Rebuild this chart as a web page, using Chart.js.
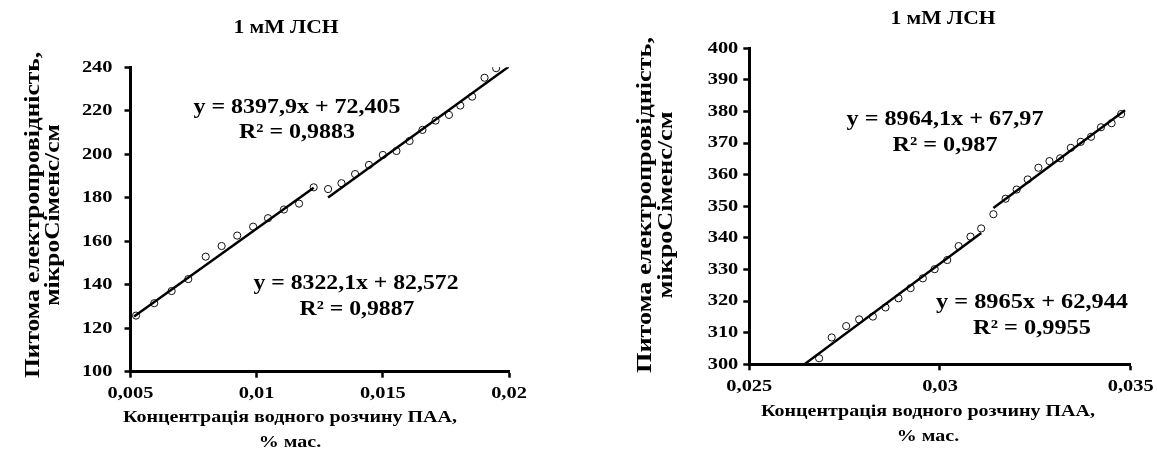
<!DOCTYPE html>
<html><head><meta charset="utf-8">
<script src="https://cdn.jsdelivr.net/npm/chart.js@4"></script>
<style>
html,body{margin:0;padding:0;background:#fff;width:1157px;height:456px;overflow:hidden;}
.box{position:absolute;top:0;height:456px;}
</style></head><body>
<div class="box" style="left:0;width:560px"><canvas id="c1"></canvas></div>
<div class="box" style="left:560px;width:597px"><canvas id="c2"></canvas></div>
<script>
// ---------- texts ----------
const chartTitle = '1 мМ ЛСН';
const yTitle = ['Питома електропровідність,', 'мікроСіменс/см'];
const xTitle = ['Концентрація водного розчину ПАА,', '% мас.'];

// ---------- left chart data ----------
const leftX1 = [0.00522, 0.00594, 0.00663, 0.00729, 0.00798, 0.00861, 0.00923, 0.00986, 0.01045, 0.01108, 0.01168, 0.01226];
const leftY1 = [125.8, 131.5, 137.1, 142.6, 152.9, 157.8, 162.6, 166.7, 170.6, 174.6, 177.3, 184.8];
const leftX2 = [0.01283, 0.01336, 0.01390, 0.01445, 0.01500, 0.01554, 0.01606, 0.01657, 0.01709, 0.01762, 0.01807, 0.01854, 0.01903, 0.01949];
const leftY2 = [184.0, 186.7, 190.9, 195.1, 199.7, 201.5, 206.1, 211.2, 215.5, 218.1, 222.4, 226.5, 235.2, 239.6];
const leftSlopes = [8322.1, 8397.9];
const leftIntercepts = [82.572, 72.405];
const leftR2 = [0.9887, 0.9883];
const leftForecastBack = [0.00008, 0];
const leftForecastFwd = [0, 0.0005];
const leftXTicks = [0.005, 0.01, 0.015, 0.02];
const leftXTickLabels = ['0,005', '0,01', '0,015', '0,02'];
const leftYTicks = [100, 120, 140, 160, 180, 200, 220, 240];
const leftYTickLabels = ['100', '120', '140', '160', '180', '200', '220', '240'];

// ---------- right chart data ----------
const rightX1 = [0.02683, 0.02716, 0.02754, 0.02788, 0.02824, 0.02857, 0.02891, 0.02923, 0.02955, 0.02986, 0.03019, 0.03049, 0.03080, 0.03108];
const rightY1 = [301.9, 308.5, 312.1, 314.2, 315.1, 318.0, 320.9, 324.1, 327.2, 330.1, 333.0, 337.4, 340.4, 343.0];
const rightX2 = [0.03140, 0.03172, 0.03201, 0.03230, 0.03258, 0.03287, 0.03315, 0.03343, 0.03369, 0.03396, 0.03422, 0.03450, 0.03475];
const rightY2 = [347.5, 352.4, 355.3, 358.5, 362.2, 364.3, 365.2, 368.5, 370.4, 372.0, 375.0, 376.3, 379.2];
const rightSlopes = [8965, 8964.1];
const rightIntercepts = [62.944, 67.97];
const rightR2 = [0.9955, 0.987];
const rightForecastBack = [0.0004, 0];
const rightForecastFwd = [0, 0.0001];
const rightXTicks = [0.025, 0.03, 0.035];
const rightXTickLabels = ['0,025', '0,03', '0,035'];
const rightYTicks = [300, 310, 320, 330, 340, 350, 360, 370, 380, 390, 400];
const rightYTickLabels = ['300', '310', '320', '330', '340', '350', '360', '370', '380', '390', '400'];

// ---------- helpers ----------
const FONT = '"Liberation Serif", "Times New Roman", serif';
const fmt = v => String(v).replace('.', ',');
const eqText = (m, b) => 'y = ' + fmt(m) + 'x + ' + fmt(b);
const r2Text = r => 'R² = ' + fmt(r);

function points(xs, ys) { return xs.map((x, i) => ({x, y: ys[i]})); }
function trend(xs, m, b, back, fwd) {
  const x0 = Math.min(...xs) - back, x1 = Math.max(...xs) + fwd;
  return [{x: x0, y: m * x0 + b}, {x: x1, y: m * x1 + b}];
}

// horizontal stretch of canvas text (the reference uses wide bold serif glyphs)
function patchStretch(ctx) {
  if (ctx.__orig) return;
  const orig = ctx.fillText;
  ctx.__orig = orig;
  ctx.__sx = 1;
  ctx.fillText = function (t, x, y, mw) {
    const m = this.getTransform();
    if (this.__sx === 1 || Math.abs(m.b) > 1e-6) return orig.call(this, t, x, y);
    this.save();
    this.translate(x, y);
    this.scale(this.__sx, 1);
    orig.call(this, t, 0, 0);
    this.restore();
  };
}

const stretchPlugin = {
  id: 'stretch',
  beforeDraw(chart) { patchStretch(chart.ctx); chart.ctx.__sx = chart.options.plugins.stretch.sx; },
  afterDraw(chart) { chart.ctx.__sx = 1; }
};

// text labels (titles, axis titles, trendline equations)
const labelPlugin = {
  id: 'labels',
  afterDraw(chart, args, opts) {
    const ctx = chart.ctx;
    const orig = ctx.__orig || ctx.fillText;
    let lastSx = 1;
    for (const L of opts.items) {
      ctx.save();
      ctx.font = 'bold ' + L.size + 'px ' + FONT;
      ctx.fillStyle = '#000';
      ctx.textAlign = 'center';
      ctx.textBaseline = 'middle';
      ctx.translate(L.x, L.y);
      if (L.rot) ctx.rotate(L.rot);
      let sx = L.sx || 1;
      if (L.w) sx = L.w / ctx.measureText(L.text).width;
      if (L.same) sx = lastSx;
      lastSx = sx;
      ctx.scale(sx, 1);
      orig.call(ctx, L.text, 0, 0);
      ctx.restore();
    }
  }
};

function fixFit(w, h) {
  return function (s) {
    if (w !== undefined) s.width = w;
    if (h !== undefined) s.height = h;
    s.paddingTop = 0; s.paddingBottom = 0; s.paddingLeft = 0; s.paddingRight = 0;
  };
}

function makeChart(id, cfg) {
  const tickFont = {family: FONT, size: 17, weight: 'bold'};
  const ds = [];
  cfg.series.forEach((s, i) => {
    ds.push({
      type: 'scatter', data: trend(s.x, cfg.slopes[i], cfg.intercepts[i], cfg.back[i], cfg.fwd[i]),
      showLine: true, pointRadius: 0, borderColor: '#000', borderWidth: 2.5, fill: false, order: 1
    });
    ds.push({
      type: 'scatter', data: points(s.x, s.y),
      pointRadius: 3.6, pointBorderWidth: 1, pointBorderColor: '#111', pointBackgroundColor: 'rgba(255,255,255,0)',
      borderColor: '#111', backgroundColor: 'rgba(255,255,255,0)', order: 2
    });
  });
  return new Chart(document.getElementById(id), {
    type: 'scatter',
    data: {datasets: ds},
    options: {
      responsive: true, maintainAspectRatio: false, animation: false,
      layout: {padding: cfg.padding},
      plugins: {legend: {display: false}, tooltip: {enabled: false}, title: {display: false},
        stretch: {sx: 1.2}, labels: {items: cfg.labels}},
      scales: {
        x: {
          type: 'linear', min: cfg.xTicks[0], max: cfg.xTicks[cfg.xTicks.length - 1],
          afterBuildTicks: s => { s.ticks = cfg.xTicks.map(v => ({value: v})); },
          afterFit: fixFit(undefined, cfg.xH),
          ticks: {autoSkip: false, maxRotation: 0, font: tickFont, color: '#000', padding: 6,
            callback: (v, i) => cfg.xLabels[i]},
          grid: {drawOnChartArea: false, drawTicks: true, tickLength: 6, tickWidth: 2.5, tickColor: '#000'},
          border: {display: true, width: 3, color: '#000'}
        },
        y: {
          type: 'linear', min: cfg.yTicks[0], max: cfg.yTicks[cfg.yTicks.length - 1],
          afterBuildTicks: s => { s.ticks = cfg.yTicks.map(v => ({value: v})); },
          afterFit: fixFit(cfg.yW, undefined),
          ticks: {autoSkip: false, font: tickFont, color: '#000', padding: cfg.yPad,
            callback: (v, i) => cfg.yLabels[i]},
          grid: {drawOnChartArea: false, drawTicks: true, tickLength: 6, tickWidth: 2.5, tickColor: '#000'},
          border: {display: true, width: 3, color: '#000'}
        }
      }
    },
    plugins: [stretchPlugin, labelPlugin]
  });
}

// left chart (canvas at page x 0)
makeChart('c1', {
  series: [{x: leftX1, y: leftY1}, {x: leftX2, y: leftY2}],
  slopes: leftSlopes, intercepts: leftIntercepts, back: leftForecastBack, fwd: leftForecastFwd,
  xTicks: leftXTicks, xLabels: leftXTickLabels, yTicks: leftYTicks, yLabels: leftYTickLabels,
  padding: {left: 0, top: 67.3, right: 51, bottom: 0}, yW: 130.5, xH: 84.3, yPad: 12,
  labels: [
    {text: chartTitle, x: 286, y: 28, size: 18, sx: 1.2},
    {text: yTitle[0], x: 34, y: 215, size: 20, rot: -Math.PI / 2, w: 326},
    {text: yTitle[1], x: 54, y: 215, size: 20, rot: -Math.PI / 2, same: true},
    {text: xTitle[0], x: 290, y: 418, size: 16, sx: 1.25},
    {text: xTitle[1], x: 290, y: 443, size: 16, sx: 1.25},
    {text: eqText(leftSlopes[1], leftIntercepts[1]), x: 297, y: 108, size: 21, w: 207},
    {text: r2Text(leftR2[1]), x: 297, y: 133, size: 21, same: true},
    {text: eqText(leftSlopes[0], leftIntercepts[0]), x: 356, y: 284, size: 21, w: 205},
    {text: r2Text(leftR2[0]), x: 357, y: 310, size: 21, same: true}
  ]
});

// right chart (canvas at page x 560)
makeChart('c2', {
  series: [{x: rightX1, y: rightY1}, {x: rightX2, y: rightY2}],
  slopes: rightSlopes, intercepts: rightIntercepts, back: rightForecastBack, fwd: rightForecastFwd,
  xTicks: rightXTicks, xLabels: rightXTickLabels, yTicks: rightYTicks, yLabels: rightYTickLabels,
  padding: {left: 0, top: 48.3, right: 26.3, bottom: 0}, yW: 189.3, xH: 91.7, yPad: 5,
  labels: [
    {text: chartTitle, x: 943 - 560, y: 19, size: 18, sx: 1.2},
    {text: yTitle[0], x: 646 - 560, y: 205, size: 20, rot: -Math.PI / 2, w: 336},
    {text: yTitle[1], x: 667 - 560, y: 205, size: 20, rot: -Math.PI / 2, same: true},
    {text: xTitle[0], x: 928 - 560, y: 412, size: 16, sx: 1.25},
    {text: xTitle[1], x: 928 - 560, y: 437, size: 16, sx: 1.25},
    {text: eqText(rightSlopes[1], rightIntercepts[1]), x: 945 - 560, y: 120, size: 21, w: 197},
    {text: r2Text(rightR2[1]), x: 945 - 560, y: 146, size: 21, same: true},
    {text: eqText(rightSlopes[0], rightIntercepts[0]), x: 1032 - 560, y: 303, size: 21, w: 192},
    {text: r2Text(rightR2[0]), x: 1032 - 560, y: 329, size: 21, same: true}
  ]
});
</script>
</body></html>
